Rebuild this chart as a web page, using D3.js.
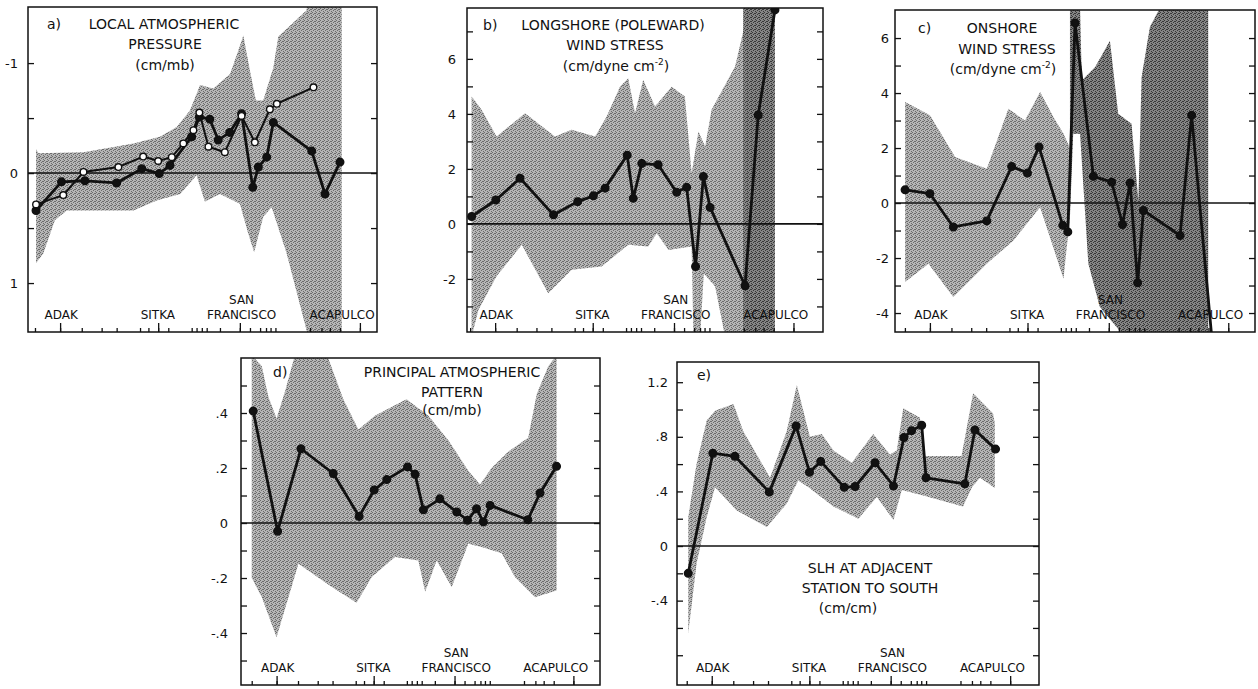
<!DOCTYPE html>
<html>
<head>
<meta charset="utf-8">
<script src="https://cdn.jsdelivr.net/npm/d3@7"></script>
<style>
body { margin: 0; background: #fff; }
text { font-family: "DejaVu Sans", sans-serif; fill: #111; }
</style>
</head>
<body>
<svg id="fig" width="1258" height="689"></svg>
<script>
// station ticks along the coast (same for every panel)
const stationTicks = [2.0, 9.2, 15.4, 21.1, 25.4, 32.1, 34.5, 37.3, 40.2, 46.9, 48.3, 49.8, 51.2, 55.0,
    60.7, 63.6, 66.5, 68.2, 69.5, 70.9, 80.8, 84.1, 86.5, 89.4, 95.1];
const majorTicks = [9.2, 37.3, 60.7, 95.1];
const stationNames = ["ADAK", "SITKA", "SAN FRANCISCO", "ACAPULCO"];
const stationNamePos = [9.5, 37.2, 61.2, 90];

// a) local atmospheric pressure
const aFillPos = [2.3, 9.6, 16.3, 25.4, 32.6, 37.6, 40.7, 46.9, 49.1, 52.1, 54.5, 57.8, 61.2, 64.4, 66.0, 68.4, 70.3, 81.3, 85.1, 89.4];
const aFillVal = [0.34, 0.08, 0.07, 0.09, -0.04, 0.005, -0.07, -0.33, -0.51, -0.49, -0.3, -0.37, -0.54, 0.13, -0.055, -0.145, -0.46, -0.2, 0.19, -0.1];
const aOpenPos = [2.3, 10.1, 15.9, 25.9, 33.0, 37.3, 41.2, 44.5, 47.4, 49.1, 51.7, 56.4, 61.2, 65.0, 69.3, 71.3, 81.8];
const aOpenVal = [0.285, 0.2, -0.01, -0.055, -0.15, -0.11, -0.145, -0.27, -0.39, -0.55, -0.24, -0.19, -0.52, -0.28, -0.58, -0.63, -0.78];
const aBandTop = [[2.3, -0.22], [3.0, -0.18], [15.9, -0.19], [30.2, -0.27], [37.8, -0.33], [42.6, -0.42], [46.4, -0.57],
    [49.3, -0.80], [53.1, -0.77], [57.9, -0.90], [60.3, -1.12], [61.7, -1.25], [63.6, -0.93], [65.3, -0.66], [67.4, -0.66],
    [70.3, -0.96], [71.7, -1.24], [79.8, -1.48], [80.3, -1.6], [89.9, -1.6]];
const aBandBot = [[2.3, 0.82], [4.4, 0.73], [7.7, 0.43], [11.1, 0.34], [30.2, 0.34], [36.9, 0.25], [43.6, 0.19], [48.3, 0.02],
    [50.7, 0.26], [55.0, 0.19], [60.7, 0.28], [63.1, 0.55], [64.8, 0.72], [67.4, 0.40], [69.8, 0.31], [74.1, 0.73],
    [80.8, 1.55], [89.9, 1.55]];

// b) longshore (poleward) wind stress
const bPos = [1.3, 8.1, 14.9, 24.3, 31.1, 35.5, 38.8, 45.0, 46.7, 49.1, 53.7, 58.9, 61.7, 64.2, 66.4, 68.3, 78.1, 81.8, 86.5];
const bVal = [0.27, 0.87, 1.66, 0.33, 0.81, 1.02, 1.30, 2.50, 0.93, 2.20, 2.15, 1.15, 1.33, -1.55, 1.72, 0.60, -2.25, 3.96, 7.78];
const bBandTop = [[1.3, 4.63], [4.1, 4.15], [8.3, 3.18], [16.3, 4.02], [24.7, 3.18], [29.4, 3.42], [36.0, 3.18], [39.2, 3.90],
    [43.0, 5.0], [45.3, 5.30], [47.2, 4.02], [49.5, 5.24], [52.8, 4.27], [57.5, 4.99], [61.2, 4.63], [63.1, 1.84], [65.0, 3.36],
    [66.9, 2.81], [68.7, 4.15], [75.3, 5.72], [79.0, 7.78], [80.0, 8.3], [86.5, 8.3]];
const bBandBot = [[1.3, -4.1], [3.2, -3.13], [8.3, -1.9], [15.4, -0.76], [22.8, -2.52], [29.4, -1.67], [37.8, -1.55],
    [45.3, -0.76], [50.9, -0.82], [53.3, -0.34], [56.6, -0.95], [63.1, -0.82], [63.6, -4.1], [65.5, -4.1], [66.5, -1.8],
    [69.7, -2.28], [72.5, -4.1], [86.5, -4.1]];
const bDarkTop = [[77.6, 8.3], [86.5, 8.3]];
const bDarkBot = [[77.6, -4.1], [86.5, -4.1]];

// c) onshore wind stress
const cPos = [2.8, 9.7, 16.2, 25.5, 32.4, 36.8, 40.0, 46.6, 48.0, 50.0, 55.1, 60.2, 63.2, 65.3, 67.4, 69.0, 79.2, 82.4, 88.0];
const cVal = [0.48, 0.34, -0.87, -0.65, 1.33, 1.09, 2.04, -0.81, -1.05, 6.55, 0.97, 0.76, -0.78, 0.73, -2.90, -0.27, -1.18, 3.19, -4.9];
const cBandTop = [[2.8, 3.67], [9.7, 3.19], [16.7, 1.67], [25.5, 1.25], [31.5, 3.43], [36.1, 3.0], [40.3, 4.04], [44.0, 3.13],
    [46.8, 2.52], [48.6, 2.0]];
const cBandBot = [[2.8, -2.87], [9.3, -2.21], [16.2, -3.42], [25.5, -2.21], [32.9, -1.36], [40.3, -0.15], [46.8, -2.75], [48.6, -0.5]];
const cDarkTop = [[48.6, 7.1], [51.4, 7.1], [51.9, 4.46], [55.6, 4.95], [59.7, 5.9], [62.0, 3.25], [65.7, 2.88], [67.6, 0.1],
    [68.5, 4.58], [70.8, 6.4], [73.6, 7.1], [87.0, 7.1]];
const cDarkBot = [[48.6, -0.5], [49.5, 2.52], [51.4, 2.52], [53.7, -2.2], [56.9, -3.78], [63.4, -4.8], [87.0, -4.8]];

// d) principal atmospheric pattern
const dPos = [3.4, 10.2, 16.7, 25.7, 32.9, 37.1, 40.6, 46.4, 48.5, 50.8, 55.4, 60.1, 63.1, 65.6, 67.5, 69.4, 79.9, 83.3, 87.9];
const dVal = [0.407, -0.03, 0.27, 0.18, 0.024, 0.12, 0.158, 0.204, 0.177, 0.048, 0.088, 0.04, 0.01, 0.052, 0.004, 0.064, 0.012, 0.109, 0.206];
const dBandTop = [[3.0, 0.61], [5.8, 0.57], [7.6, 0.46], [9.9, 0.38], [12.3, 0.48], [15.0, 0.61], [24.0, 0.61], [28.5, 0.45],
    [32.7, 0.34], [37.3, 0.39], [46.1, 0.45], [52.2, 0.39], [57.8, 0.30], [63.3, 0.19], [66.6, 0.14], [69.8, 0.20], [74.5, 0.26],
    [80.0, 0.31], [82.4, 0.47], [85.6, 0.57], [87.9, 0.61]];
const dBandBot = [[3.0, -0.2], [5.8, -0.27], [9.9, -0.415], [16.0, -0.148], [25.3, -0.233], [32.2, -0.29], [36.4, -0.196],
    [42.9, -0.124], [49.4, -0.136], [51.3, -0.25], [54.5, -0.136], [58.7, -0.233], [63.3, -0.075], [67.0, -0.087], [72.6, -0.11],
    [76.3, -0.196], [81.9, -0.27], [87.9, -0.245]];

// e) SLH at adjacent station to south
const ePos = [3.1, 9.9, 16.0, 25.5, 32.9, 36.6, 39.7, 46.2, 49.2, 54.7, 59.8, 62.7, 64.8, 67.6, 68.8, 79.5, 82.3, 88.0];
const eVal = [-0.2, 0.68, 0.657, 0.395, 0.88, 0.54, 0.62, 0.43, 0.436, 0.61, 0.44, 0.795, 0.845, 0.885, 0.50, 0.455, 0.85, 0.71];
const eBandTop = [[3.1, 0.21], [5.4, 0.6], [8.2, 0.92], [10.5, 0.99], [15.6, 1.04], [18.3, 0.84], [25.7, 0.50], [30.3, 0.84],
    [33.1, 1.18], [36.7, 0.80], [40.0, 0.82], [43.2, 0.70], [48.3, 0.61], [54.2, 0.82], [58.8, 0.67], [60.7, 0.70], [62.5, 1.01],
    [67.1, 0.94], [68.5, 0.66], [78.6, 0.66], [81.8, 1.12], [87.3, 0.97], [87.8, 0.90]];
const eBandBot = [[3.1, -0.64], [5.4, -0.13], [8.2, 0.21], [10.5, 0.43], [16.5, 0.26], [24.8, 0.14], [30.3, 0.31], [33.5, 0.48],
    [36.3, 0.43], [43.2, 0.29], [50.1, 0.20], [55.2, 0.36], [59.8, 0.19], [62.1, 0.41], [68.0, 0.37], [79.0, 0.29], [81.5, 0.43],
    [83.7, 0.5], [87.8, 0.425]];

const fmtInt = d => String(d);
const fmtDec = d => d === 0 ? "0" : String(d).replace("0.", ".");
const sup2 = ["(cm/dyne cm", "-2", ")"];

const panels = [
    {key: "a", box: [28, 7, 377, 332], yDomain: [-1.51, 1.445], tickDomain: [0, 100],
     yTicks: [-1, -0.5, 0, 0.5, 1], yLabels: [-1, 0, 1], fmt: fmtInt, pad: 10,
     bands: [{top: aBandTop, bot: aBandBot, fill: "url(#light)"}],
     series: [{pos: aFillPos, val: aFillVal, open: false}, {pos: aOpenPos, val: aOpenVal, open: true}],
     label: ["a)", 19, 22],
     title: [["LOCAL  ATMOSPHERIC", 136, 22], ["PRESSURE", 137, 42], ["(cm/mb)", 137, 63]]},
    {key: "b", box: [467, 8, 823, 332], yDomain: [7.85, -3.93], tickDomain: [1.1, 103.6],
     yTicks: d3.range(-3, 8), yLabels: [-2, 0, 2, 4, 6], fmt: fmtInt, pad: 11,
     bands: [{top: bBandTop, bot: bBandBot, fill: "url(#light)"}, {top: bDarkTop, bot: bDarkBot, fill: "url(#dark)"}],
     series: [{pos: bPos, val: bVal, open: false}],
     label: ["b)", 16, 22],
     title: [["LONGSHORE (POLEWARD)", 146, 22], ["WIND STRESS", 148, 42], [sup2, 149, 63]]},
    {key: "c", box: [895, 10, 1255, 332], yDomain: [7.02, -4.69], tickDomain: [-0.85, 102.8],
     yTicks: d3.range(-4, 7), yLabels: [-4, -2, 0, 2, 4, 6], fmt: fmtInt, pad: 6,
     bands: [{top: cBandTop, bot: cBandBot, fill: "url(#light)"}, {top: cDarkTop, bot: cDarkBot, fill: "url(#dark)"}],
     series: [{pos: cPos, val: cVal, open: false}],
     label: ["c)", 23, 23],
     title: [["ONSHORE", 107, 23], ["WIND STRESS", 112, 44], [sup2, 108, 64]]},
    {key: "d", box: [241, 358, 600, 685], yDomain: [0.6, -0.589], tickDomain: [-1.1, 102.8],
     yTicks: d3.range(-5, 6).map(d => d / 10), yLabels: [-0.4, -0.2, 0, 0.2, 0.4], fmt: fmtDec, pad: 13,
     bands: [{top: dBandTop, bot: dBandBot, fill: "url(#light)"}],
     series: [{pos: dPos, val: dVal, open: false}],
     label: ["d)", 32, 19],
     title: [["PRINCIPAL ATMOSPHERIC", 211, 19], ["PATTERN", 211, 39], ["(cm/mb)", 211, 57]]},
    {key: "e", box: [677, 362, 1039, 685], yDomain: [1.348, -1.018], tickDomain: [-0.8, 103.4],
     yTicks: d3.range(-4, 7).map(d => Math.round(d * 2) / 10), yLabels: [-0.4, 0, 0.4, 0.8, 1.2], fmt: fmtDec, pad: 9,
     bands: [{top: eBandTop, bot: eBandBot, fill: "url(#light)"}],
     series: [{pos: ePos, val: eVal, open: false}],
     label: ["e)", 20, 18],
     title: [["SLH AT ADJACENT", 193, 211], ["STATION TO SOUTH", 193, 231], ["(cm/cm)", 171, 251]]}
];

const svg = d3.select("#fig");
const defs = svg.append("defs");

function stipple(id, base, dot) {
    let p = defs.append("pattern").attr("id", id)
        .attr("width", 4).attr("height", 4)
        .attr("patternUnits", "userSpaceOnUse");
    p.append("rect").attr("width", 4).attr("height", 4).attr("fill", base);
    [[0, 0], [2, 1], [1, 2], [3, 3], [3, 1]].forEach(([x, y]) => {
        p.append("rect").attr("x", x).attr("y", y).attr("width", 1).attr("height", 1).attr("fill", dot);
    });
}
stipple("light", "#b6b6b6", "#6c6c6c");
stipple("dark", "#858585", "#383838");

panels.forEach(p => {
    let [x0, y0, x1, y1] = p.box;
    let x = d3.scaleLinear().domain([0, 100]).range([x0, x1]);
    let xt = d3.scaleLinear().domain(p.tickDomain).range([x0, x1]);
    let y = d3.scaleLinear().domain(p.yDomain).range([y0, y1]);

    defs.append("clipPath").attr("id", "clip-" + p.key)
        .append("rect").attr("x", x0).attr("y", y0).attr("width", x1 - x0).attr("height", y1 - y0);

    let g = svg.append("g");
    let plot = g.append("g").attr("clip-path", `url(#clip-${p.key})`);

    // shaded confidence bands
    p.bands.forEach(b => {
        let pts = b.top.concat(b.bot.slice().reverse());
        plot.append("path")
            .attr("d", d3.line().x(d => x(d[0])).y(d => y(d[1]))(pts) + "Z")
            .attr("fill", b.fill);
    });

    // zero line
    plot.append("line")
        .attr("x1", x0).attr("x2", x1)
        .attr("y1", y(0)).attr("y2", y(0))
        .attr("stroke", "#111").attr("stroke-width", 1.6);

    let line = d3.line().x(d => x(d[0])).y(d => y(d[1]));
    p.series.forEach(s => {
        let pts = d3.zip(s.pos, s.val);
        plot.append("path")
            .attr("d", line(pts))
            .attr("fill", "none")
            .attr("stroke", "#111")
            .attr("stroke-width", s.open ? 2 : 2.8)
            .attr("stroke-linejoin", "round");
        plot.selectAll(null)
            .data(pts)
            .join("circle")
            .attr("cx", d => x(d[0]))
            .attr("cy", d => y(d[1]))
            .attr("r", s.open ? 3.3 : 3.8)
            .attr("fill", s.open ? "#fff" : "#111")
            .attr("stroke", "#111")
            .attr("stroke-width", 1.4);
    });

    // frame
    g.append("rect")
        .attr("x", x0).attr("y", y0)
        .attr("width", x1 - x0).attr("height", y1 - y0)
        .attr("fill", "none").attr("stroke", "#111").attr("stroke-width", 1.5);

    // y axes (ticks inside)
    let left = g.append("g").attr("transform", `translate(${x0},0)`)
        .call(d3.axisLeft(y).tickValues(p.yTicks).tickSize(-6).tickPadding(p.pad)
            .tickFormat(d => p.yLabels.some(v => Math.abs(v - d) < 1e-9) ? p.fmt(d) : ""));
    let right = g.append("g").attr("transform", `translate(${x1},0)`)
        .call(d3.axisRight(y).tickValues(p.yTicks).tickSize(-6).tickFormat(""));

    // station ticks along the bottom
    let minor = g.append("g").attr("transform", `translate(0,${y1})`)
        .call(d3.axisBottom(xt).tickValues(stationTicks).tickSize(-4).tickFormat(""));
    let major = g.append("g").attr("transform", `translate(0,${y1})`)
        .call(d3.axisBottom(xt).tickValues(majorTicks).tickSize(-9).tickFormat(""));

    [left, right, minor, major].forEach(a => {
        a.select(".domain").remove();
        a.selectAll("line").attr("stroke", "#111").attr("stroke-width", 1.3);
        a.selectAll("text").style("font-size", "13px").attr("fill", "#111");
    });

    // station names
    stationNames.forEach((name, i) => {
        let words = name.split(" ").reverse();
        words.forEach((w, j) => {
            g.append("text")
                .attr("x", xt(stationNamePos[i]))
                .attr("y", y1 - 13 - j * 15)
                .attr("text-anchor", "middle")
                .style("font-size", "12px")
                .text(w);
        });
    });

    // panel label and title
    g.append("text")
        .attr("x", x0 + p.label[1]).attr("y", y0 + p.label[2])
        .style("font-size", "14px")
        .text(p.label[0]);
    p.title.forEach(([t, dx, dy]) => {
        let txt = g.append("text")
            .attr("x", x0 + dx).attr("y", y0 + dy)
            .attr("text-anchor", "middle")
            .style("font-size", "14px");
        if (Array.isArray(t)) {
            txt.append("tspan").text(t[0]);
            txt.append("tspan").attr("dy", -6).style("font-size", "9px").text(t[1]);
            txt.append("tspan").attr("dy", 6).text(t[2]);
        } else {
            txt.text(t);
        }
    });
});
</script>
</body>
</html>
